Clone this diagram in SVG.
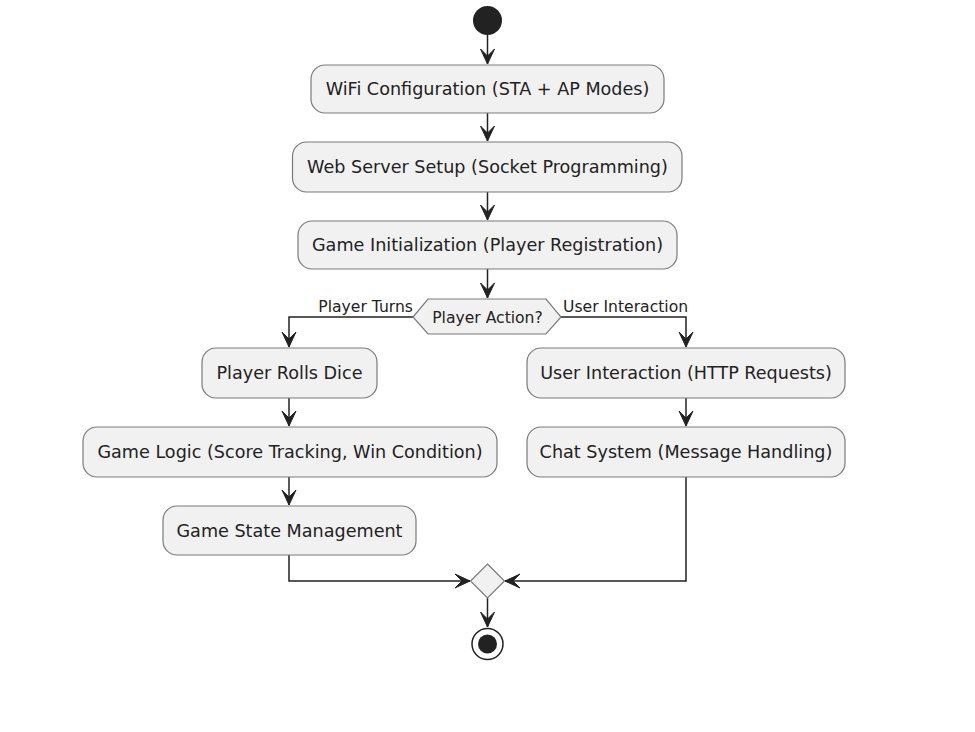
<svg xmlns="http://www.w3.org/2000/svg" width="975" height="732" viewBox="0 0 975 732">
<style>
.box{fill:#F1F1F1;stroke:#7a7a7a;stroke-width:1.2}
.t{font-family:"DejaVu Sans",Verdana,sans-serif;font-size:17.6px;fill:#222;text-anchor:middle}
.lbl{font-family:"DejaVu Sans",Verdana,sans-serif;font-size:15.6px;fill:#222}
.ln{fill:none;stroke:#222;stroke-width:1.5}
</style>
<defs>
<marker id="arr" markerUnits="userSpaceOnUse" viewBox="-16 -8 17 16" refX="0" refY="0" markerWidth="17" markerHeight="16" orient="auto" overflow="visible">
<path d="M-15,-7 L0,0 L-15,7 L-8,0 Z" fill="#222" stroke="#222" stroke-width="1"/>
</marker>
</defs>
<rect width="975" height="732" fill="#FFFFFF"/>
<g id="connectors">
<path class="ln" d="M487.5,35 V64" marker-end="url(#arr)"/>
<path class="ln" d="M487.5,113 V141" marker-end="url(#arr)"/>
<path class="ln" d="M487.5,192 V220" marker-end="url(#arr)"/>
<path class="ln" d="M487.5,269 V298" marker-end="url(#arr)"/>
<path class="ln" d="M413,317 H289 V347" marker-end="url(#arr)"/>
<path class="ln" d="M561,317 H686 V347" marker-end="url(#arr)"/>
<path class="ln" d="M289,398 V426" marker-end="url(#arr)"/>
<path class="ln" d="M289,477 V505" marker-end="url(#arr)"/>
<path class="ln" d="M289,555 V581 H470" marker-end="url(#arr)"/>
<path class="ln" d="M686,398 V426" marker-end="url(#arr)"/>
<path class="ln" d="M686,477 V581 H505" marker-end="url(#arr)"/>
<path class="ln" d="M487.5,598 V627" marker-end="url(#arr)"/>
<text class="lbl" x="413" y="312" text-anchor="end">Player Turns</text>
<text class="lbl" x="563" y="312">User Interaction</text>
</g>
<g id="start"><circle cx="487.5" cy="20.5" r="14.5" fill="#222"/></g>
<g id="wifi"><rect class="box" x="311" y="65" width="353" height="48" rx="14"/><text class="t" x="487.5" y="95">WiFi Configuration (STA + AP Modes)</text></g>
<g id="webserver"><rect class="box" x="292.5" y="142" width="389.5" height="50" rx="14"/><text class="t" x="487.5" y="173">Web Server Setup (Socket Programming)</text></g>
<g id="gameinit"><rect class="box" x="298" y="221" width="379" height="48" rx="14"/><text class="t" x="487.5" y="251">Game Initialization (Player Registration)</text></g>
<g id="decision"><polygon class="box" points="413,317 428,299 546,299 561,317 546,334 428,334"/><text class="lbl" x="487.5" y="323" text-anchor="middle">Player Action?</text></g>
<g id="rolls"><rect class="box" x="202" y="348" width="175" height="50" rx="14"/><text class="t" x="289.5" y="379">Player Rolls Dice</text></g>
<g id="logic"><rect class="box" x="83" y="427" width="414" height="50" rx="14"/><text class="t" x="290" y="458">Game Logic (Score Tracking, Win Condition)</text></g>
<g id="state"><rect class="box" x="163" y="506" width="253" height="49" rx="14"/><text class="t" x="289.5" y="537">Game State Management</text></g>
<g id="userint"><rect class="box" x="527" y="348" width="318" height="50" rx="14"/><text class="t" x="686" y="379">User Interaction (HTTP Requests)</text></g>
<g id="chat"><rect class="box" x="527" y="427" width="318" height="50" rx="14"/><text class="t" x="686" y="458">Chat System (Message Handling)</text></g>
<g id="merge"><polygon class="box" points="487.5,564 504.5,581 487.5,598 470.5,581"/></g>
<g id="end"><circle cx="487.5" cy="644" r="15.5" fill="#FFFFFF" stroke="#222" stroke-width="1.5"/><circle cx="487.5" cy="644" r="9.5" fill="#222"/></g>
</svg>
